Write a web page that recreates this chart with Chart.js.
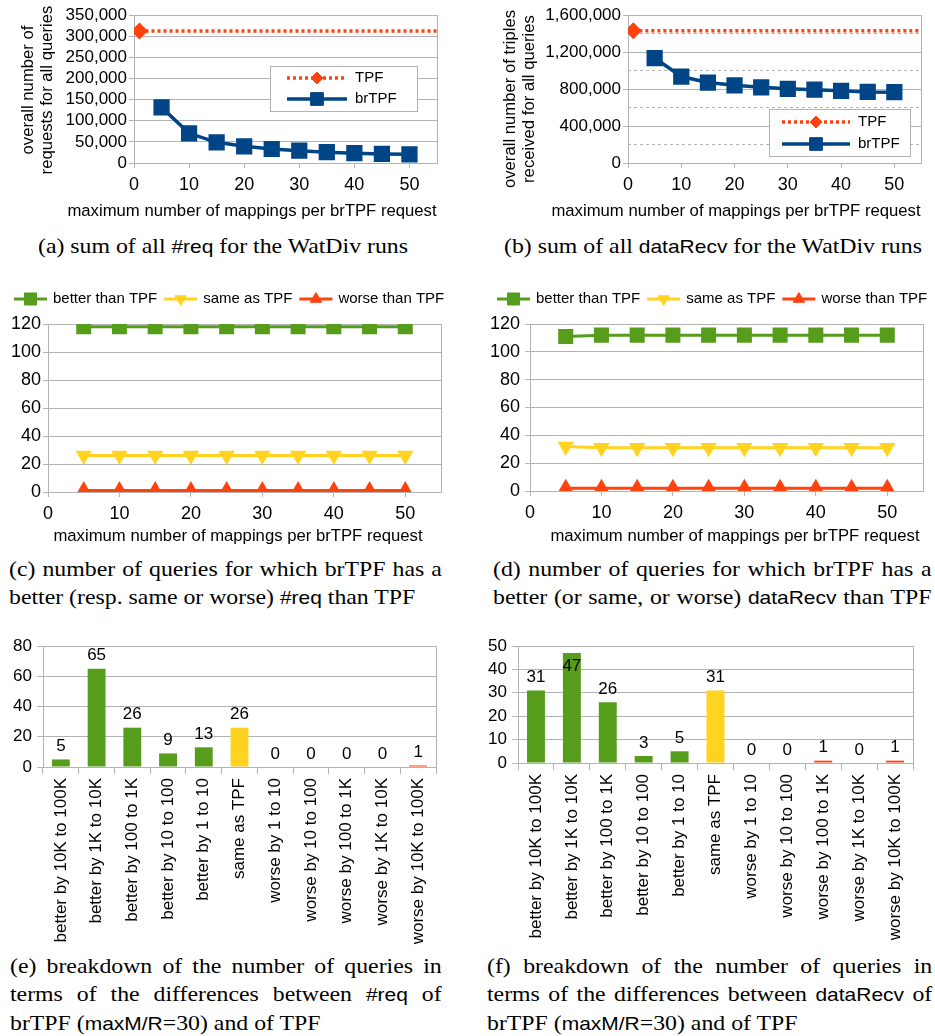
<!DOCTYPE html>
<html>
<head>
<meta charset="utf-8">
<script src="https://cdn.jsdelivr.net/npm/chart.js@4/dist/chart.umd.min.js"></script>
<style>
body { margin: 0; background: #fff; width: 935px; height: 1036px; position: relative; overflow: hidden; }
canvas { position: absolute; }
.cap { position: absolute; font-family: 'Liberation Serif', 'Times New Roman', serif; font-size: 21px; line-height: 28px; color: #000; transform: scaleX(1.133); transform-origin: 0 0; }
.cap div { white-space: nowrap; }
.cap .j { text-align: justify; text-align-last: justify; }
.cap .s { font-family: 'Liberation Sans', Arial, sans-serif; font-size: 18.5px; }
</style>
</head>
<body>
<canvas id="ca" width="467" height="221" style="left:0;top:0"></canvas>
<canvas id="cb" width="468" height="221" style="left:467px;top:0"></canvas>
<canvas id="cc" width="467" height="266" style="left:0;top:280px"></canvas>
<canvas id="cd" width="468" height="266" style="left:467px;top:280px"></canvas>
<canvas id="ce" width="467" height="315" style="left:0;top:630px"></canvas>
<canvas id="cf" width="468" height="315" style="left:467px;top:630px"></canvas>

<div class="cap" style="left:38px;top:232px"><div>(a) sum of all <span class="s">#req</span> for the WatDiv runs</div></div>
<div class="cap" style="left:504px;top:232px"><div>(b) sum of all <span class="s">dataRecv</span> for the WatDiv runs</div></div>
<div class="cap" style="left:9px;top:555px;width:382px">
  <div class="j">(c) number of queries for which brTPF has a</div>
  <div>better (resp. same or worse) <span class="s">#req</span> than TPF</div>
</div>
<div class="cap" style="left:493px;top:555px;width:387px">
  <div class="j">(d) number of queries for which brTPF has a</div>
  <div class="j">better (or same, or worse) <span class="s">dataRecv</span> than TPF</div>
</div>
<div class="cap" style="left:10px;top:952px;width:381px">
  <div class="j">(e) breakdown of the number of queries in</div>
  <div class="j">terms of the differences between <span class="s">#req</span> of</div>
  <div>brTPF (<span class="s">maxM/R</span>=30) and of TPF</div>
</div>
<div class="cap" style="left:487px;top:952px;width:393px">
  <div class="j">(f) breakdown of the number of queries in</div>
  <div class="j">terms of the differences between <span class="s">dataRecv</span> of</div>
  <div>brTPF (<span class="s">maxM/R</span>=30) and of TPF</div>
</div>

<script>
// values
const mappings = [5, 10, 15, 20, 25, 30, 35, 40, 45, 50];
const tpfX = [1, 55];
const tpfReq = [312000, 312000];
const brtpfReq = [131600, 70200, 48900, 39400, 33100, 29200, 25600, 23200, 21400, 20500];
const tpfRecv = [1430000, 1430000];
const brtpfRecv = [1135000, 935000, 870000, 840000, 818000, 802000, 793000, 780000, 768000, 766000];

const reqBetter = [118, 118, 118, 118, 118, 118, 118, 118, 118, 118];
const reqSame = [26, 26, 26, 26, 26, 26, 26, 26, 26, 26];
const reqWorse = [1, 1, 1, 1, 1, 1, 1, 1, 1, 1];
const recvBetter = [111, 112, 112, 112, 112, 112, 112, 112, 112, 112];
const recvSame = [32, 31, 31, 31, 31, 31, 31, 31, 31, 31];
const recvWorse = [2, 2, 2, 2, 2, 2, 2, 2, 2, 2];

const breakdownLabels = ['better by 10K to 100K', 'better by 1K to 10K', 'better by 100 to 1K',
  'better by 10 to 100', 'better by 1 to 10', 'same as TPF', 'worse by 1 to 10',
  'worse by 10 to 100', 'worse by 100 to 1K', 'worse by 1K to 10K', 'worse by 10K to 100K'];
const reqBreakdown = [5, 65, 26, 9, 13, 26, 0, 0, 0, 0, 1];
const recvBreakdown = [31, 47, 26, 3, 5, 31, 0, 0, 1, 0, 1];

const xTitle = 'maximum number of mappings per brTPF request';

const GRID = '#b3b3b3';
const BLUE = '#004586', ORANGE = '#ff420e', YELLOW = '#ffd320', GREEN = '#579d1c';
const SANS = "'Liberation Sans', Arial, sans-serif";

Chart.defaults.font.family = SANS;
Chart.defaults.color = '#000';
Chart.defaults.animation = false;
Chart.defaults.plugins.legend.display = false;
Chart.defaults.plugins.tooltip.enabled = false;

const xy = (xs, ys) => xs.map((x, i) => ({ x: x, y: ys[i] }));
const fmt = v => v.toLocaleString('en-US');

// box around the plot area
const frame = {
  id: 'frame',
  beforeDatasetsDraw(chart) {
    const a = chart.chartArea, c = chart.ctx;
    c.save();
    c.strokeStyle = GRID;
    c.lineWidth = 1;
    c.strokeRect(Math.round(a.left) + 0.5, Math.round(a.top) + 0.5, Math.round(a.right - a.left), Math.round(a.bottom - a.top));
    c.restore();
  }
};

// axis titles drawn by hand: chart.js squeezes them to the axis length
function axisTitles(xt, yt) {
  return {
    id: 'axisTitles',
    afterDraw(chart) {
      const c = chart.ctx;
      c.save();
      c.font = '16.7px ' + SANS;
      c.fillStyle = '#000';
      c.textAlign = 'center';
      c.textBaseline = 'middle';
      if (xt) c.fillText(xt.text, xt.cx, xt.cy);
      if (yt) {
        c.translate(yt.cx, yt.cy);
        c.rotate(-Math.PI / 2);
        yt.lines.forEach((l, i) => c.fillText(l, 0, i * yt.lh));
      }
      c.restore();
    }
  };
}

function marker(c, ds, x, y) {
  c.fillStyle = ds.borderColor;
  c.strokeStyle = ds.borderColor;
  c.lineWidth = 1;
  Chart.helpers.drawPoint(c, { pointStyle: ds.pointStyle, rotation: ds.pointRotation || 0, radius: ds.legendRadius, borderWidth: 1 }, x, y);
}

function legendItem(c, ds, x, y, len, gap) {
  c.save();
  c.strokeStyle = ds.borderColor;
  c.lineWidth = ds.borderWidth;
  c.setLineDash(ds.borderDash || []);
  c.beginPath(); c.moveTo(x, y); c.lineTo(x + len, y); c.stroke();
  c.setLineDash([]);
  marker(c, ds, x + len / 2, y);
  c.font = '15px ' + SANS;
  c.fillStyle = '#000';
  c.textAlign = 'left';
  c.textBaseline = 'middle';
  c.fillText(ds.label, x + len + gap, y);
  const w = c.measureText(ds.label).width;
  c.restore();
  return x + len + gap + w;
}

function boxLegend(bx, by, bw, bh, rows, lx, len) {
  return {
    id: 'boxLegend',
    afterDraw(chart) {
      const c = chart.ctx;
      c.save();
      c.fillStyle = '#fff';
      c.fillRect(bx, by, bw, bh);
      c.strokeStyle = GRID;
      c.lineWidth = 1;
      c.strokeRect(bx + 0.5, by + 0.5, bw, bh);
      c.restore();
      chart.data.datasets.forEach((ds, i) => legendItem(c, ds, lx, rows[i], len, 8));
    }
  };
}

function rowLegend(x0, y) {
  return {
    id: 'rowLegend',
    afterDraw(chart) {
      let x = x0;
      chart.data.datasets.forEach(ds => { x = legendItem(chart.ctx, ds, x, y, 33, 6) + 7; });
    }
  };
}

const barLabels = {
  id: 'barLabels',
  afterDatasetsDraw(chart) {
    const c = chart.ctx, a = chart.chartArea;
    const vals = chart.data.datasets[0].data;
    c.save();
    c.font = '17px ' + SANS;
    c.fillStyle = '#000';
    c.textAlign = 'center';
    c.textBaseline = 'middle';
    chart.getDatasetMeta(0).data.forEach((bar, i) => {
      let y = bar.y - 13;
      if (y - 8 < a.top) y = bar.y + 13;
      c.fillText(String(vals[i]), bar.x, y);
    });
    c.restore();
  }
};

function mappingAxis(height, pad) {
  return {
    type: 'linear', min: 0, max: 55,
    afterFit: s => { s.height = height; },
    ticks: { stepSize: 10, includeBounds: false, padding: pad, font: { size: 18 } },
    grid: { drawOnChartArea: false, tickLength: 5, color: GRID },
    border: { color: GRID }
  };
}

function countAxis(width, max, step, pad, size) {
  return {
    min: 0, max: max,
    afterFit: s => { s.width = width; },
    ticks: { stepSize: step, padding: pad, autoSkip: false, font: { size: size }, callback: v => fmt(v) },
    grid: { color: GRID, tickLength: 5 },
    border: { color: GRID }
  };
}

function tpfSet(ys) {
  return { label: 'TPF', data: xy(tpfX, ys), borderColor: ORANGE, backgroundColor: ORANGE,
    borderWidth: 3.5, borderDash: [3, 3], pointStyle: 'rectRot', pointRadius: [6, 0], legendRadius: 6, tension: 0 };
}
function brSet(ys) {
  return { label: 'brTPF', data: xy(mappings, ys), borderColor: BLUE, backgroundColor: BLUE,
    borderWidth: 3.5, pointStyle: 'rect', pointRadius: 9, legendRadius: 9, tension: 0 };
}
function cmpSets(better, same, worse) {
  return [
    { label: 'better than TPF', data: xy(mappings, better), borderColor: GREEN, backgroundColor: GREEN,
      borderWidth: 3, pointStyle: 'rect', pointRadius: 8.5, legendRadius: 8.5 },
    { label: 'same as TPF', data: xy(mappings, same), borderColor: YELLOW, backgroundColor: YELLOW,
      borderWidth: 3, pointStyle: 'triangle', pointRotation: 180, pointRadius: 6.5, legendRadius: 6.5 },
    { label: 'worse than TPF', data: xy(mappings, worse), borderColor: ORANGE, backgroundColor: ORANGE,
      borderWidth: 3, pointStyle: 'triangle', pointRadius: 6.5, legendRadius: 6.5 }
  ];
}

// (a) requests
new Chart(document.getElementById('ca'), {
  type: 'line',
  data: { datasets: [tpfSet(tpfReq), brSet(brtpfReq)] },
  options: {
    responsive: false,
    layout: { padding: { top: 15, right: 30, left: 0, bottom: 0 } },
    scales: {
      x: mappingAxis(58, 6),
      y: countAxis(134, 350000, 50000, 2, 17)
    }
  },
  plugins: [frame, boxLegend(270, 66, 147, 45, [78, 99], 287, 60),
    axisTitles({ text: xTitle, cx: 252, cy: 211 }, { lines: ['overall number of', 'requests for all queries'], cx: 28, cy: 90, lh: 19 })]
});

// (b) triples received
new Chart(document.getElementById('cb'), {
  type: 'line',
  data: { datasets: [tpfSet(tpfRecv), brSet(brtpfRecv)] },
  options: {
    responsive: false,
    layout: { padding: { top: 15, right: 14, left: 0, bottom: 0 } },
    scales: {
      x: mappingAxis(58, 6),
      y: countAxis(161, 1600000, 400000, 2, 17),
      y2: {
        position: 'left', min: 0, max: 1600000,
        afterFit: s => { s.width = 0; },
        ticks: { display: false, stepSize: 200000 },
        grid: { drawTicks: false, color: c => (c.tick && c.tick.value % 400000) ? GRID : 'rgba(0,0,0,0)' },
        border: { display: false, dash: [3, 3] }
      }
    }
  },
  plugins: [frame, boxLegend(302, 109, 141, 47, [122, 144], 315, 68),
    axisTitles({ text: xTitle, cx: 269, cy: 211 }, { lines: ['overall number of triples', 'received for all queries'], cx: 43, cy: 99, lh: 19 })]
});

// (c) per-query comparison, #req
new Chart(document.getElementById('cc'), {
  type: 'line',
  data: { datasets: cmpSets(reqBetter, reqSame, reqWorse) },
  options: {
    responsive: false,
    layout: { padding: { top: 44, right: 26, left: 0, bottom: 0 } },
    scales: {
      x: mappingAxis(54, 6),
      y: countAxis(48, 120, 20, 2, 18)
    }
  },
  plugins: [frame, rowLegend(14, 19), axisTitles({ text: xTitle, cx: 238, cy: 256 })]
});

// (d) per-query comparison, dataRecv
new Chart(document.getElementById('cd'), {
  type: 'line',
  data: { datasets: cmpSets(recvBetter, recvSame, recvWorse) },
  options: {
    responsive: false,
    layout: { padding: { top: 44, right: 12, left: 0, bottom: 0 } },
    scales: {
      x: mappingAxis(55, 6),
      y: countAxis(63, 120, 20, 5, 18)
    }
  },
  plugins: [frame, rowLegend(30, 19), axisTitles({ text: xTitle, cx: 268, cy: 256 })]
});

function breakdownChart(id, values, yWidth, yMax, yStep, rightPad, xHeight) {
  return new Chart(document.getElementById(id), {
    type: 'bar',
    data: {
      labels: breakdownLabels,
      datasets: [{
        data: values,
        backgroundColor: c => {
          const l = breakdownLabels[c.dataIndex] || '';
          return l.startsWith('better') ? GREEN : (l.startsWith('same') ? YELLOW : ORANGE);
        },
        barPercentage: 0.5, categoryPercentage: 1.0
      }]
    },
    options: {
      responsive: false,
      layout: { padding: { top: 16, right: rightPad, left: 0, bottom: 0 } },
      scales: {
        x: {
          afterFit: s => { s.height = xHeight; },
          ticks: { minRotation: 90, maxRotation: 90, autoSkip: false, padding: 4, font: { size: 17 } },
          grid: { offset: true, drawOnChartArea: false, tickLength: 7, color: GRID },
          border: { color: GRID }
        },
        y: {
          min: 0, max: yMax,
          afterFit: s => { s.width = yWidth; },
          ticks: { stepSize: yStep, padding: 5, autoSkip: false, font: { size: 17 } },
          grid: { color: GRID, tickLength: 6 },
          border: { color: GRID }
        }
      }
    },
    plugins: [frame, barLabels]
  });
}

breakdownChart('ce', reqBreakdown, 43, 80, 20, 31, 178);
breakdownChart('cf', recvBreakdown, 51, 50, 10, 22, 182);
</script>
</body>
</html>
